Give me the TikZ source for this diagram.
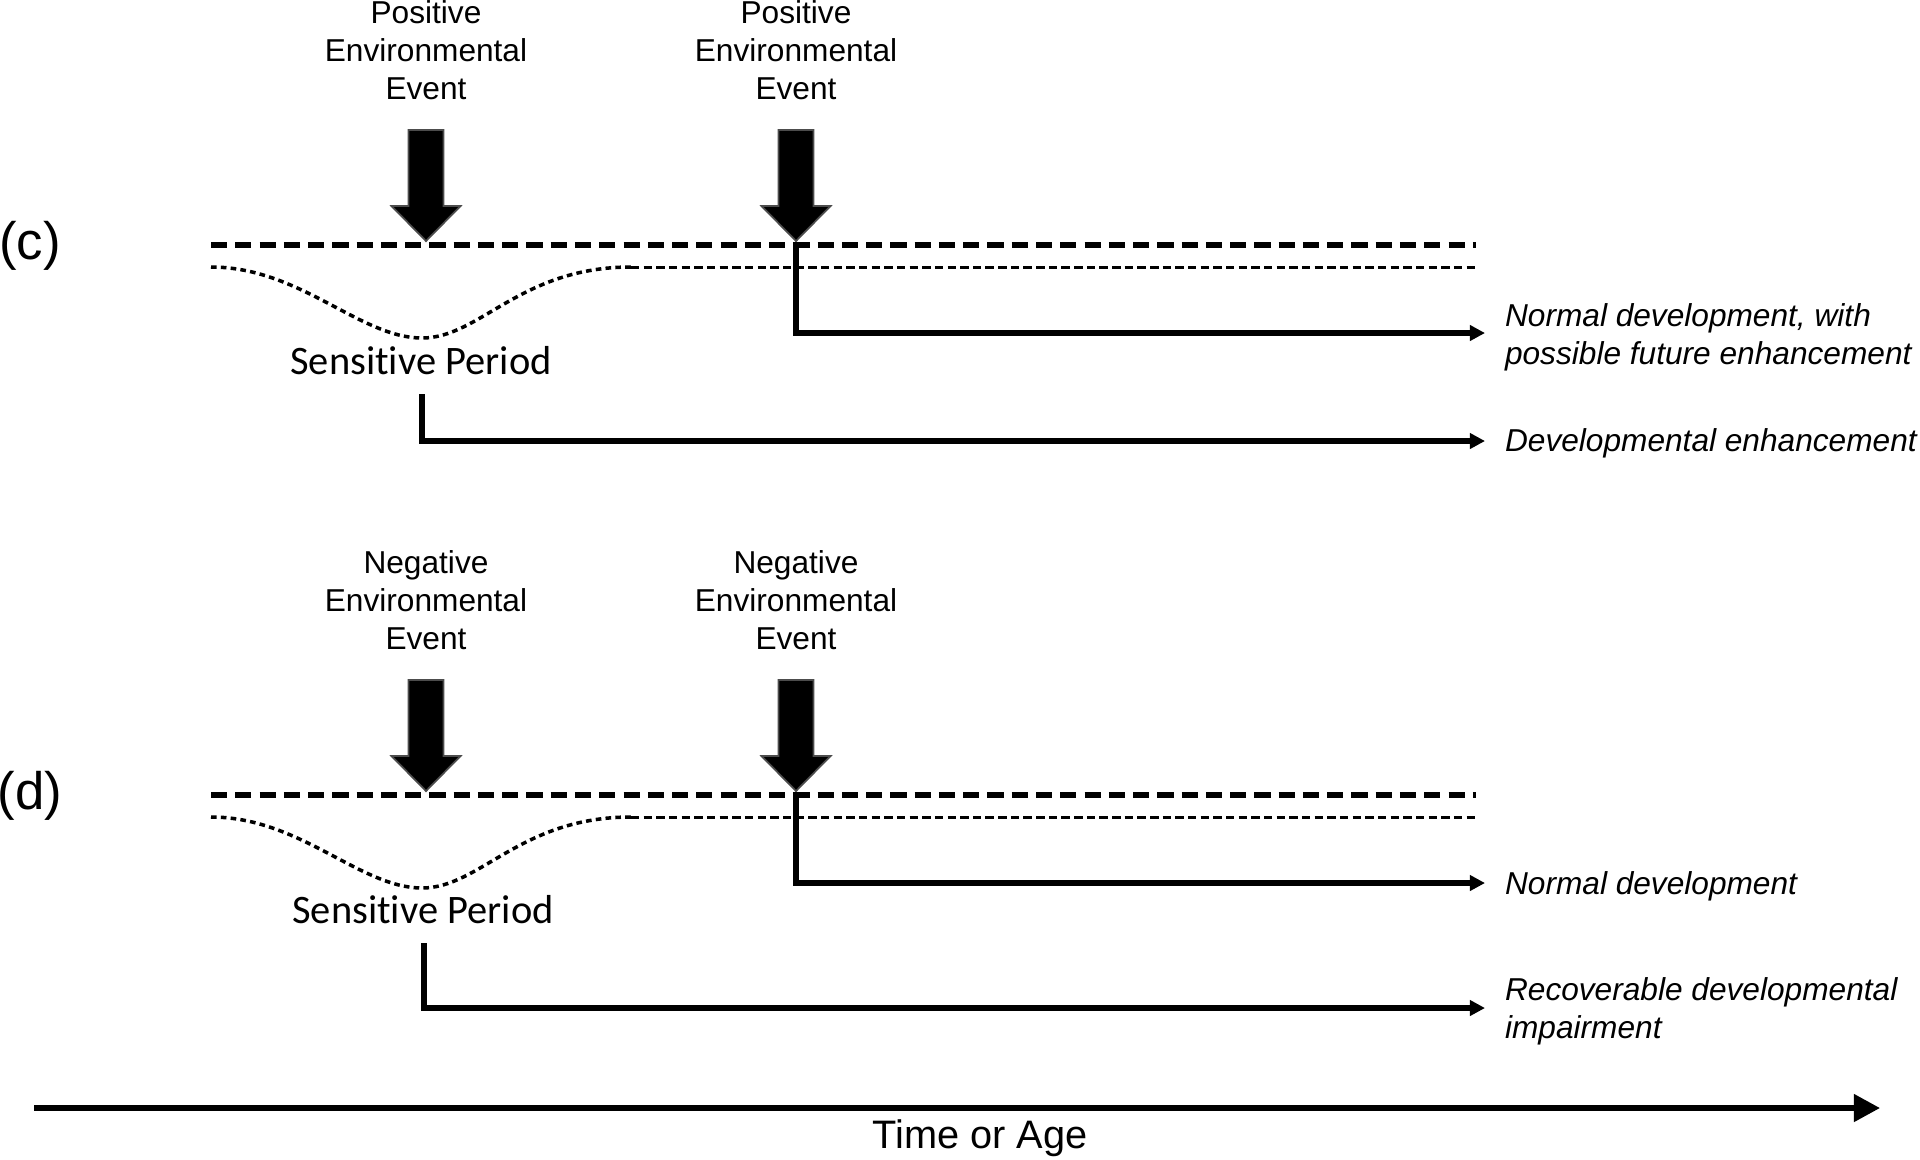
\documentclass[tikz,border=0pt]{standalone}
\usepackage{fontspec}
\setmainfont{Liberation Sans}
\newfontfamily\calfont[Ligatures=NoCommon]{Carlito}
\usetikzlibrary{arrows.meta}
\tikzset{
 evtext/.style={align=center, font=\fontsize{9}{10.8}\selectfont, inner sep=0pt},
 blk/.style={fill=black, draw=black!70, line width=0.5pt},
 thickdash/.style={line width=1.5pt, dash pattern=on 4.6pt off 2.3pt},
 thindash/.style={line width=0.85pt, dash pattern=on 2.4pt off 1.2pt},
 dotcurve/.style={line width=1pt, dash pattern=on 1.6pt off 1.2pt},
 conn/.style={line width=1.5pt, -{Triangle[length=4.3pt,width=4.3pt]}},
 outlab/.style={anchor=west, align=left, font=\fontsize{9}{10.8}\selectfont\itshape, inner xsep=5.5pt, inner ysep=0pt},
 sptext/.style={font=\calfont\fontsize{11.5}{13}\selectfont, inner sep=0pt},
 panel/.style={font=\fontsize{15}{17}\selectfont, inner sep=0pt},
 axis/.style={line width=1.5pt, -{Triangle[length=7.4pt,width=7.6pt]}},
}
\newcommand\evarrow[2]{% center x, top y
 \path[blk] (#1-17.5,#2) -- (#1+17.5,#2) -- (#1+17.5,#2+76) -- (#1+34.5,#2+76) -- (#1,#2+111) -- (#1-34.5,#2+76) -- (#1-17.5,#2+76) -- cycle;}
\begin{document}
\begin{tikzpicture}[x=0.01cm,y=-0.01cm]
\useasboundingbox (0,0) rectangle (1920,1159);

% ---------- panel (c) ----------
\node[panel] (pc) at (30,246) {(c)};
\node[evtext] (ec1) at (426,50) {Positive\\Environmental\\Event};
\node[evtext] (ec2) at (796,50) {Positive\\Environmental\\Event};
\evarrow{426}{130}
\evarrow{796}{130}
\coordinate (bc0) at (211,245);
\coordinate (bc1) at (1476,245);
\draw[thickdash] (bc0) -- (bc1);
\coordinate (sc0) at (211,267);
\coordinate (sc1) at (631,267);
\coordinate (sc2) at (1476,267);
\draw[dotcurve] (sc0) .. controls (300,267) and (360,338) .. (422,338) .. controls (480,338) and (520,267) .. (sc1);
\draw[thindash] (sc1) -- (sc2);
\node[sptext] (spc) at (421,361) {Sensitive Period};
\coordinate (ac1) at (1485,333);
\coordinate (ac2) at (1485,441);
\node[outlab] (lc1) at (1485,337) {Normal development, with\\possible future enhancement};
\node[outlab] (lc2) at (1485,443) {Developmental enhancement};
\coordinate (uc) at (796,245);
\coordinate (dc) at (422,394);
\draw[conn] (uc) |- (ac1);
\draw[conn] (dc) |- (ac2);

% ---------- panel (d) ----------
\node[panel] (pd) at (30,796) {(d)};
\node[evtext] (ed1) at (426,600) {Negative\\Environmental\\Event};
\node[evtext] (ed2) at (796,600) {Negative\\Environmental\\Event};
\evarrow{426}{680}
\evarrow{796}{680}
\coordinate (bd0) at (211,795);
\coordinate (bd1) at (1476,795);
\draw[thickdash] (bd0) -- (bd1);
\coordinate (sd0) at (211,817);
\coordinate (sd1) at (631,817);
\coordinate (sd2) at (1476,817);
\draw[dotcurve] (sd0) .. controls (300,817) and (360,888) .. (422,888) .. controls (480,888) and (520,817) .. (sd1);
\draw[thindash] (sd1) -- (sd2);
\node[sptext] (spd) at (423,910) {Sensitive Period};
\coordinate (ad1) at (1485,883);
\coordinate (ad2) at (1485,1008);
\node[outlab] (ld1) at (1485,886) {Normal development};
\node[outlab] (ld2) at (1485,1011) {Recoverable developmental\\impairment};
\coordinate (ud) at (796,795);
\coordinate (dd) at (424,943);
\draw[conn] (ud) |- (ad1);
\draw[conn] (dd) |- (ad2);

% ---------- time axis ----------
\coordinate (t0) at (34,1108);
\coordinate (t1) at (1880,1108);
\draw[axis] (t0) -- (t1);
\node[font=\fontsize{11.3}{13}\selectfont, inner sep=0pt] (tl) at (980,1138) {Time or Age};
\end{tikzpicture}
\end{document}
